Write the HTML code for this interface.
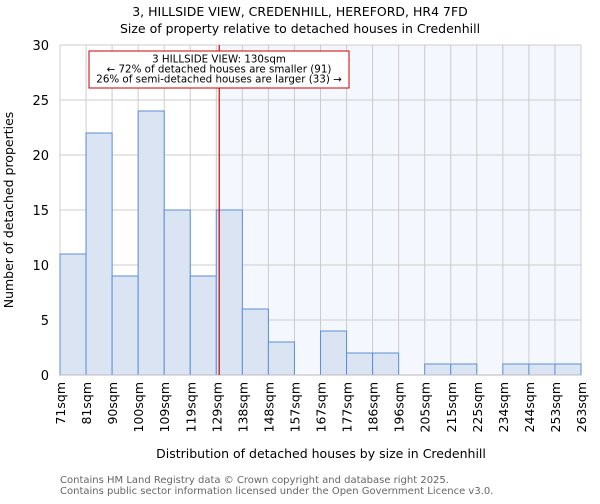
<!DOCTYPE html>
<html><head><meta charset="utf-8"><style>
body{margin:0;background:#fff;font-family:"DejaVu Sans","Liberation Sans",sans-serif;}
svg text{font-family:"DejaVu Sans","Liberation Sans",sans-serif;}
</style></head><body>
<svg id="chart" width="600" height="500" xmlns="http://www.w3.org/2000/svg">
<text x="300" y="16" text-anchor="middle" font-size="12.5">3, HILLSIDE VIEW, CREDENHILL, HEREFORD, HR4 7FD</text>
<text x="300" y="33" text-anchor="middle" font-size="12.5">Size of property relative to detached houses in Credenhill</text>
<g id="plot"></g>
<text transform="translate(13,210) rotate(-90)" text-anchor="middle" font-size="12.5">Number of detached properties</text>
<text x="321" y="458" text-anchor="middle" font-size="12.5">Distribution of detached houses by size in Credenhill</text>
<text x="60" y="483" font-size="10" fill="#666">Contains HM Land Registry data © Crown copyright and database right 2025.</text>
<text x="60" y="494" font-size="10" fill="#666">Contains public sector information licensed under the Open Government Licence v3.0.</text>
</svg>
<script>
const binLabels=["71sqm","81sqm","90sqm","100sqm","109sqm","119sqm","129sqm","138sqm","148sqm","157sqm","167sqm","177sqm","186sqm","196sqm","205sqm","215sqm","225sqm","234sqm","244sqm","253sqm","263sqm"];
const counts=[11,22,9,24,15,9,15,6,3,0,4,2,2,0,1,1,0,1,1,1];
const yTicks=[0,5,10,15,20,25,30];
const propertySize=130;
const binStarts=[71,81,90,100,109,119,129,138,148,157,167,177,186,196,205,215,225,234,244,253,263];
const L=60,R=581,T=45,B=375,yMax=30;
const n=counts.length,bw=(R-L)/n;
const x=i=>L+i*bw;
const y=v=>B-(v/yMax)*(B-T);
function sizeX(s){for(let i=0;i<n;i++){if(s>=binStarts[i]&&s<binStarts[i+1])return x(i)+(s-binStarts[i])/(binStarts[i+1]-binStarts[i])*bw;}return R;}
const NS="http://www.w3.org/2000/svg";
const g=document.getElementById('plot');
function mk(t,a){const e=document.createElementNS(NS,t);for(const k in a)e.setAttribute(k,a[k]);g.appendChild(e);return e;}
const rx=sizeX(propertySize);
let e=mk('rect',{x:rx,y:T,width:R-rx,height:B-T,fill:'#f4f7fd'});


for(let i=0;i<=n;i++){e=mk('line',{x1:x(i),x2:x(i),y1:T,y2:B,stroke:'#ccc','stroke-width':1});

}
yTicks.forEach(t=>{e=mk('line',{x1:L,x2:R,y1:y(t),y2:y(t),stroke:'#ccc','stroke-width':1});


const tx=mk('text',{x:L-11,y:y(t)+5,'text-anchor':'end','font-size':13});tx.textContent=t;

});
counts.forEach((c,i)=>{if(c<=0)return;e=mk('rect',{x:x(i),y:y(c),width:bw,height:B-y(c),fill:'#dae4f3',stroke:'#5b8fd6','stroke-width':1});

});
e=mk('line',{x1:L,x2:R,y1:B,y2:B,stroke:'#bbb','stroke-width':1});


binLabels.forEach((l,i)=>{const tx=mk('text',{transform:`translate(${x(i)+5},382) rotate(-90)`,'text-anchor':'end','font-size':12.5});tx.textContent=l;

});
e=mk('line',{x1:rx,x2:rx,y1:T,y2:B,stroke:'#cc0000','stroke-width':1.2});


e=mk('rect',{x:89,y:51,width:260,height:37,fill:'#fff',stroke:'#cc0000','stroke-width':1});


["3 HILLSIDE VIEW: 130sqm","← 72% of detached houses are smaller (91)","26% of semi-detached houses are larger (33) →"].forEach((s,i)=>{const tx=mk('text',{x:219,y:62.5+i*10,'text-anchor':'middle','font-size':10.3});tx.textContent=s;

});
</script>
</body></html>
